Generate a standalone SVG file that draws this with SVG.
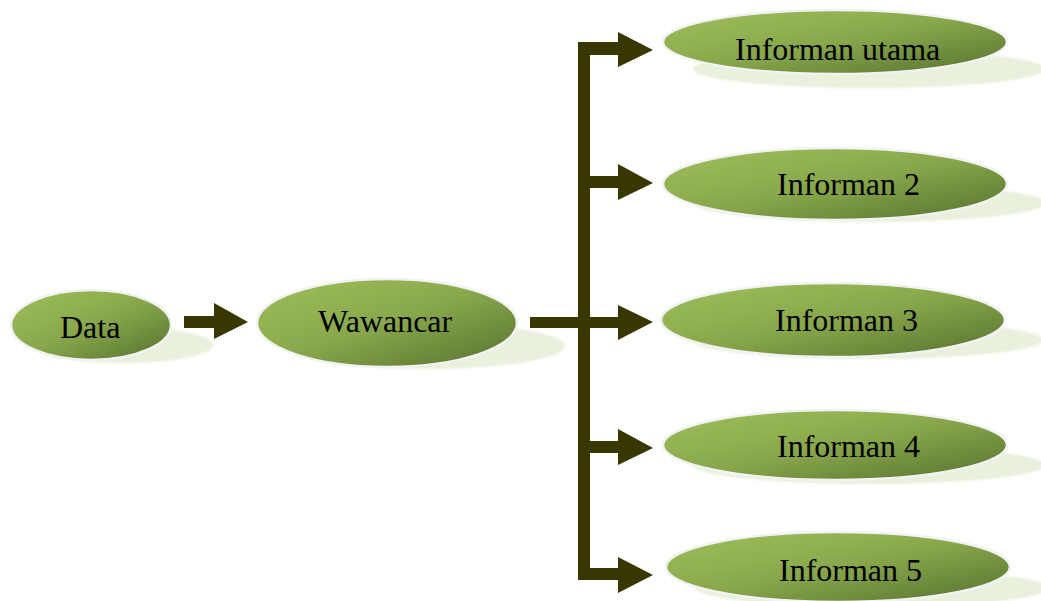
<svg xmlns="http://www.w3.org/2000/svg" width="1041" height="601" viewBox="0 0 1041 601">
  <defs>
    <linearGradient id="nodeFill" x1="0" y1="0" x2="1" y2="1">
      <stop offset="0" stop-color="#9fc05c"/>
      <stop offset="0.5" stop-color="#88a74b"/>
      <stop offset="1" stop-color="#55702e"/>
    </linearGradient>
    <filter id="soft" x="-10%" y="-30%" width="120%" height="160%">
      <feGaussianBlur stdDeviation="1"/>
    </filter>
  </defs>
  <style>
    .shadow { fill: #e9f0dc; filter: url(#soft); }
    .node { fill: url(#nodeFill); stroke: #f2f2f2; stroke-width: 2.5; }
    .label { font-family: "Liberation Serif", "Times New Roman", serif; font-size: 32px; fill: #000; }
    .conn { fill: #383700; }
  </style>

  <rect width="1041" height="601" fill="#ffffff"/>

  <!-- connectors -->
  <g id="connectors" class="conn">
    <!-- Data to Wawancar -->
    <polygon points="184,316 214,316 214,303 248,322 214,339 214,328 184,328"/>
    <!-- Wawancar to the vertical bus -->
    <rect x="530" y="317" width="60" height="11"/>
    <!-- vertical bus -->
    <rect x="578" y="42" width="12" height="538"/>
    <!-- branches to each informant -->
    <polygon points="578,42 618,42 618,32 653,50 618,67 618,55 578,55"/>
    <polygon points="590,176 618,176 618,164 653,183 618,200 618,188 590,188"/>
    <polygon points="590,317 618,317 618,305 653,322 618,340 618,328 590,328"/>
    <polygon points="590,441 618,441 618,429 653,448 618,465 618,453 590,453"/>
    <polygon points="578,568 618,568 618,557 653,575 618,593 618,580 578,580"/>
  </g>

  <g id="node-data">
    <ellipse class="shadow" cx="123" cy="345" rx="90" ry="18"/>
    <ellipse class="node" cx="91" cy="325" rx="80" ry="35"/>
    <text class="label" x="60" y="338">Data</text>
  </g>

  <g id="node-wawancar">
    <ellipse class="shadow" cx="426" cy="346" rx="139" ry="23"/>
    <ellipse class="node" cx="387" cy="323" rx="130" ry="44"/>
    <text class="label" x="318" y="332">Wawancar</text>
  </g>

  <g id="node-informan-utama">
    <ellipse class="shadow" cx="869" cy="69" rx="176" ry="19"/>
    <ellipse class="node" cx="835" cy="42" rx="172" ry="32"/>
    <text class="label" x="735" y="60">Informan utama</text>
  </g>

  <g id="node-informan-2">
    <ellipse class="shadow" cx="869" cy="203" rx="176" ry="19"/>
    <ellipse class="node" cx="835" cy="184" rx="172" ry="36"/>
    <text class="label" x="777" y="195">Informan 2</text>
  </g>

  <g id="node-informan-3">
    <ellipse class="shadow" cx="867" cy="340" rx="176" ry="19"/>
    <ellipse class="node" cx="833" cy="320" rx="172" ry="37"/>
    <text class="label" x="775" y="331">Informan 3</text>
  </g>

  <g id="node-informan-4">
    <ellipse class="shadow" cx="869" cy="465" rx="176" ry="19"/>
    <ellipse class="node" cx="835" cy="445" rx="172" ry="35"/>
    <text class="label" x="777" y="457">Informan 4</text>
  </g>

  <g id="node-informan-5">
    <ellipse class="shadow" cx="872" cy="588" rx="176" ry="19"/>
    <ellipse class="node" cx="838" cy="567" rx="172" ry="35"/>
    <text class="label" x="779" y="581">Informan 5</text>
  </g>
</svg>
